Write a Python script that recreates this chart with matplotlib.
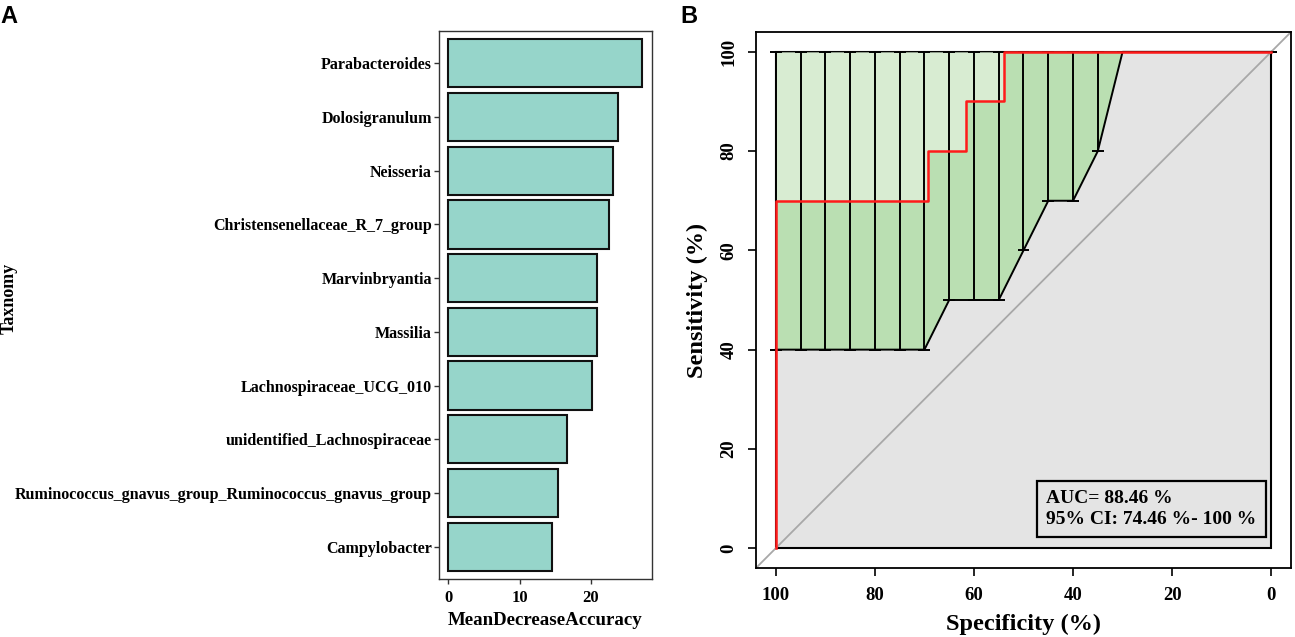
import matplotlib
matplotlib.use("Agg")
from matplotlib import pyplot as plt
import numpy as np

# panel A: random forest importance
taxa = ["Parabacteroides", "Dolosigranulum", "Neisseria",
        "Christensenellaceae_R_7_group", "Marvinbryantia", "Massilia",
        "Lachnospiraceae_UCG_010", "unidentified_Lachnospiraceae",
        "Ruminococcus_gnavus_group_Ruminococcus_gnavus_group", "Campylobacter"]
mda = [27.2, 23.8, 23.1, 22.6, 20.9, 20.8, 20.1, 16.6, 15.4, 14.6]

# panel B: ROC curve (specificity %, sensitivity %)
roc_spec = [100, 100, 69.23, 69.23, 61.54, 61.54, 53.85, 53.85, 0]
roc_sens = [0, 70, 70, 80, 80, 90, 90, 100, 100]

# 95% CI of sensitivity at fixed specificities
ci_spec = [0, 5, 10, 15, 20, 25, 30, 35, 40, 45, 50, 55, 60, 65, 70, 75, 80, 85, 90, 95, 100]
ci_lower = [100, 100, 100, 100, 100, 100, 100, 80, 70, 70, 60, 50, 50, 50, 40, 40, 40, 40, 40, 40, 40]
ci_upper = [100] * 21

auc_text = "AUC= 88.46 %\n95% CI: 74.46 %- 100 %"

plt.rcParams['font.family'] = ['Liberation Serif', 'DejaVu Serif']
plt.rcParams['font.weight'] = 'bold'

W, H = 1295, 637
fig = plt.figure(figsize=(W / 100, H / 100), dpi=100)

# ---------------- A ----------------
ax1 = fig.add_axes([438.8 / W, 1 - 579 / H, 213 / W, 548 / H])
ypos = np.arange(len(taxa))[::-1] + 1
ax1.barh(ypos, mda, height=0.9, color='#96d5ca', edgecolor='#111111', linewidth=1.5)
ax1.set_ylim(0.4, len(taxa) + 0.6)
ax1.set_xlim(-0.05 * max(mda), 1.05 * max(mda))
ax1.set_yticks(ypos)
ax1.set_yticklabels(taxa, fontsize=11.5, fontweight='bold')
ax1.set_xticks([0, 10, 20])
ax1.tick_params(axis='both', colors='#333333', length=3.5, width=1, labelcolor='black')
ax1.tick_params(axis='y', pad=1.5)
ax1.tick_params(axis='x', labelsize=12, pad=4.5)
for s in ax1.spines.values():
    s.set_color('#333333')
    s.set_linewidth(1)
ax1.set_xlabel('MeanDecreaseAccuracy', fontsize=13.6, fontweight='bold', labelpad=4)
fig.text(9.5 / W, 1 - 298 / H, 'Taxnomy', rotation=90, ha='center', va='center',
         fontsize=13, fontweight='bold')

# ---------------- B ----------------
ax2 = fig.add_axes([756 / W, 1 - 568 / H, 535 / W, 536 / H])
ax2.set_xlim(104, -4)
ax2.set_ylim(-4, 104)

# max auc area
ax2.fill([100, 0, 0, 100], [0, 0, 100, 100], facecolor='#e4e4e4', edgecolor='black',
         linewidth=1.5, zorder=1)
ax2.axline((100, 0), (0, 100), color='#a8a8a8', linewidth=1.3, zorder=1.5)

# CI shape
ax2.fill_between(ci_spec, ci_lower, ci_upper, color='#d8ecd2', linewidth=0, zorder=2)
spec_a = np.array(ci_spec)
low_a = np.array(ci_lower)
keep = spec_a >= spec_a[low_a < 100].min() - 5
dark_x = np.r_[roc_spec[1:-1], spec_a[keep]]
dark_y = np.r_[roc_sens[1:-1], low_a[keep]]
ax2.fill(dark_x, dark_y, color='#badfb2', linewidth=0, zorder=2.1)
ax2.plot(ci_spec, ci_lower, color='black', linewidth=1.4, zorder=2.5)

# error bars
cap = 1.2
ax2.vlines(ci_spec, ci_lower, ci_upper, color='black', linewidth=1.4, zorder=3)
ax2.hlines(ci_lower, spec_a - cap, spec_a + cap, color='black', linewidth=1.4, zorder=3)
ax2.hlines(ci_upper, spec_a - cap, spec_a + cap, color='black', linewidth=1.4, zorder=3)

# ROC curve
ax2.plot(roc_spec, roc_sens, color='#ff1a1a', linewidth=1.8, zorder=4)

ax2.text(45.4, 7.9, auc_text, ha='left', va='center', fontsize=14, fontweight='bold',
         linespacing=1.32, zorder=5,
         bbox=dict(boxstyle='square,pad=0.48', facecolor='#e4e4e4', edgecolor='black',
                   linewidth=1.6))

ax2.set_xticks([100, 80, 60, 40, 20, 0])
ax2.set_yticks([0, 20, 40, 60, 80, 100])
ax2.tick_params(axis='both', length=5.5, width=1.2, labelsize=13.5, pad=8)
for lab in ax2.get_yticklabels():
    lab.set_rotation(90)
    lab.set_va('center')
for s in ax2.spines.values():
    s.set_linewidth(1.3)
ax2.set_xlabel('Specificity (%)', fontsize=17.6, fontweight='bold', labelpad=7)
ax2.set_ylabel('Sensitivity (%)', fontsize=17.6, fontweight='bold', labelpad=9)

fig.text(0 / W, 1 - 5 / H, 'A', ha='left', va='top', fontsize=17,
         fontweight='bold', family='Liberation Sans')
fig.text(680 / W, 1 - 5 / H, 'B', ha='left', va='top', fontsize=17,
         fontweight='bold', family='Liberation Sans')

fig.savefig('out.png', dpi=100)
